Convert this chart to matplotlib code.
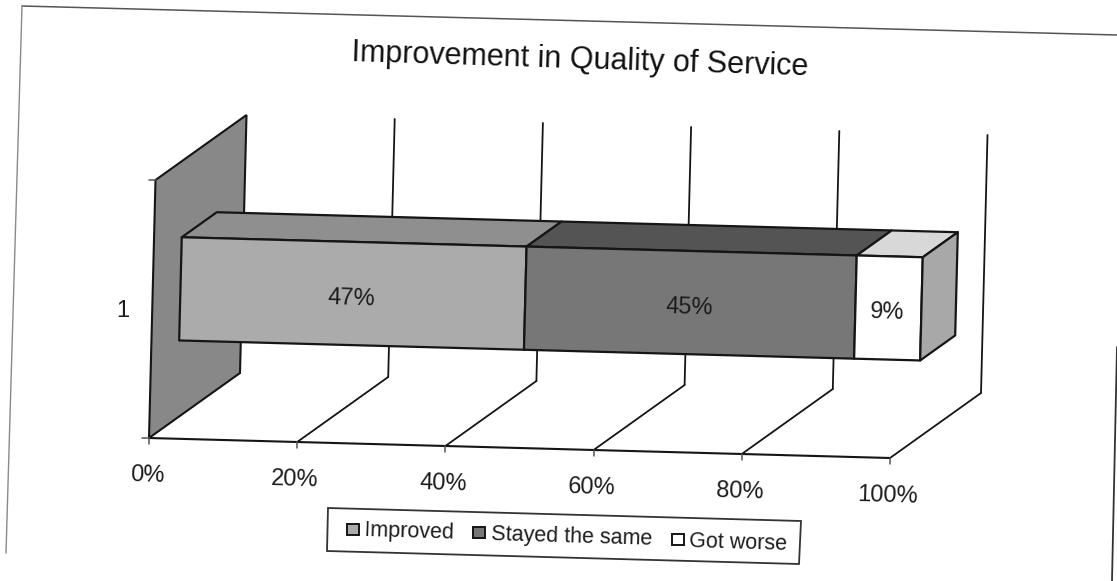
"""Skewed scan of a 3D 100% stacked bar: Improvement in Quality of Service."""

import matplotlib

matplotlib.use("Agg", force=True)
import matplotlib.pyplot as plt
from matplotlib.patches import Polygon, Rectangle
import numpy as np

title = "Improvement in Quality of Service"
category = "1"
series_names = ["Improved", "Stayed the same", "Got worse"]
series_values = [47, 45, 9]
value_ticks = [0, 20, 40, 60, 80, 100]

front_colors = ["#ababab", "#777777", "#ffffff"]
top_colors = ["#8f8f8f", "#545454", "#d8d8d8"]
side_color = "#a8a8a8"
wall_color = "#888888"
line_color = "#151515"
text_color = "#1c1c1c"

# scan geometry in image pixels
ORIGIN = np.array([149.0, 438.0])
VALUE_VEC = np.array([741.0, 20.0]) / 100.0
DEPTH_VEC = np.array([91.0, -65.0])
HEIGHT_VEC = np.array([6.5, -258.0])
BAR_DEPTH = (0.31, 0.695)
BAR_HEIGHT = (0.30, 0.70)
ANGLE = -1.7

plt.rcParams["font.family"] = ["Liberation Sans", "DejaVu Sans"]


def project(value, depth=0.0, height=0.0):
    return ORIGIN + value * VALUE_VEC + depth * DEPTH_VEC + height * HEIGHT_VEC


def line(ax, a, b, color=line_color, lw=1.5, zorder=2):
    ax.plot([a[0], b[0]], [a[1], b[1]], color=color, lw=lw, zorder=zorder, solid_capstyle="round")


def draw_bar(ax):
    total = sum(series_values)
    starts = np.cumsum([0] + series_values[:-1]) / total * 100.0
    ends = np.cumsum(series_values) / total * 100.0
    d0, d1 = BAR_DEPTH
    h0, h1 = BAR_HEIGHT
    edge = dict(edgecolor=line_color, linewidth=1.6, joinstyle="round")
    for i, (v0, v1) in enumerate(zip(starts, ends)):
        front = [project(v0, d0, h0), project(v1, d0, h0), project(v1, d0, h1), project(v0, d0, h1)]
        top = [project(v0, d0, h1), project(v1, d0, h1), project(v1, d1, h1), project(v0, d1, h1)]
        ax.add_patch(Polygon(top, facecolor=top_colors[i], zorder=4, **edge))
        ax.add_patch(Polygon(front, facecolor=front_colors[i], zorder=4, **edge))
        mid = project((v0 + v1) / 2.0, d0, 0.5)
        ax.text(mid[0] - 1, mid[1] + 5, f"{series_values[i]}%", fontsize=17, color=text_color,
                ha="center", va="center", rotation=ANGLE, rotation_mode="anchor", zorder=5)
    side = [project(100, d0, h0), project(100, d1, h0), project(100, d1, h1), project(100, d0, h1)]
    ax.add_patch(Polygon(side, facecolor=side_color, zorder=4, **edge))


def draw_legend(ax):
    box = [(328, 508), (801, 521), (799, 564), (327, 551)]
    ax.add_patch(Polygon(box, facecolor="white", edgecolor="#333333", linewidth=1.3, zorder=3))
    swatch_x = [353, 479, 678]
    text_x = [364, 491, 689]
    for i, name in enumerate(series_names):
        y = 529 + (swatch_x[i] - 353) * 0.0308
        ax.add_patch(Rectangle((swatch_x[i] - 6, y - 5.5), 12, 11, facecolor=front_colors[i],
                               edgecolor=line_color, linewidth=1.4, zorder=4))
        ax.text(text_x[i], y + 2, name, fontsize=15.5, color=text_color, ha="left", va="center",
                rotation=ANGLE, rotation_mode="anchor", zorder=4)


def main():
    fig = plt.figure(figsize=(11.17, 5.81), dpi=100)
    ax = fig.add_axes([0, 0, 1, 1])
    ax.set_xlim(0, 1117)
    ax.set_ylim(581, 0)
    ax.axis("off")

    # scanned page edge
    line(ax, (22, 6), (1117, 35), color="#555555", lw=1.1)
    line(ax, (22, 6), (6, 553), color="#8a8a8a", lw=1.0)
    line(ax, (1117, 347), (1112, 581), color="#333333", lw=1.3)

    # left wall
    wall = [project(0), project(0, 1, 0), project(0, 1, 1), project(0, 0, 1)]
    ax.add_patch(Polygon(wall, facecolor=wall_color, edgecolor=line_color, linewidth=1.5, zorder=1))

    # floor, gridlines, tick marks
    line(ax, project(0), project(100))
    for v in value_ticks:
        if v > 0:
            line(ax, project(v), project(v, 1, 0), lw=1.3)
            line(ax, project(v, 1, 0), project(v, 1, 1), lw=1.3)
        tick = project(v)
        line(ax, tick, tick + np.array([0, 6]), color="#555555", lw=1.1)
        ax.text(tick[0] - 2, tick[1] + 38, f"{v}%", fontsize=17, color=text_color,
                ha="center", va="center", rotation=ANGLE, rotation_mode="anchor")
    for h in (0, 1):
        p = project(0, 0, h)
        line(ax, p, p + np.array([-7, 0]), color="#555555", lw=1.1)

    draw_bar(ax)
    draw_legend(ax)

    ax.text(123, 311, category, fontsize=17, color=text_color, ha="center", va="center")
    ax.text(579.5, 60, title, fontsize=22, color="#111111", ha="center", va="center",
            rotation=-1.8, rotation_mode="anchor")

    fig.savefig("out.png", dpi=100, facecolor="white")
    plt.close(fig)


if __name__ == "__main__":
    main()
